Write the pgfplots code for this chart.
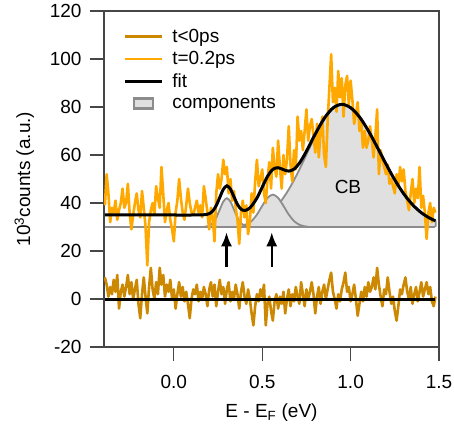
\documentclass[border=0pt]{standalone}
\usepackage{fontspec}
\setmainfont{Liberation Sans}
\usepackage{pgfplots}
\pgfplotsset{compat=1.18}
\usetikzlibrary{arrows.meta}

\definecolor{tpos}{RGB}{255,168,0}
\definecolor{tneg}{RGB}{204,136,0}
\definecolor{compfill}{RGB}{224,224,224}
\definecolor{compedge}{RGB}{140,140,140}
\definecolor{axgray}{RGB}{70,70,70}

\begin{document}
\begin{tikzpicture}
\begin{axis}[
    at={(0pt,0pt)}, anchor=south west,
    scale only axis,
    width=335pt, height=336pt,
    xmin=-0.395, xmax=1.5,
    ymin=-20, ymax=120,
    xtick={0,0.5,1,1.5},
    xticklabels={0.0,0.5,1.0,1.5},
    ytick={-20,0,20,40,60,80,100,120},
    yticklabels={-20,0,20,40,60,80,100,120},
    xtick pos=bottom, ytick pos=left,
    tick align=outside,
    major tick length=14pt,
    tick style={axgray, line width=1.3pt},
    axis line style={axgray, line width=1.3pt},
    tick label style={font=\fontsize{19}{22}\selectfont},
    xticklabel style={yshift=-11pt},
    yticklabel style={xshift=-5pt},
    xlabel={E - E\textsubscript{F} (eV)},
    ylabel={10\textsuperscript{3}counts (a.u.)},
    every axis y label/.style={at={(axis description cs:-0.238,0.5)}, rotate=90, anchor=center, font=\fontsize{19}{22}\selectfont},
    every axis x label/.style={at={(axis description cs:0.5,-0.195)}, anchor=center, font=\fontsize{19}{22}\selectfont},
    legend style={at={(axis description cs:0.048,0.958)}, anchor=north west,
        draw=none, fill=none, font=\fontsize{19}{22}\selectfont, row sep=3.5pt},
    legend cell align=left,
    legend image code/.code={\draw[#1] (0pt,0pt) -- (37pt,0pt); \path (44pt,0pt);},
]
% legend in the reference order
\addlegendimage{tneg, line width=2.6pt}
\addlegendentry{t<0ps}
\addlegendimage{tpos, line width=2.6pt}
\addlegendentry{t=0.2ps}
\addlegendimage{black, line width=3pt}
\addlegendentry{fit}
\addlegendimage{legend image code/.code={\draw[line width=2.5pt, draw=compedge, fill=compfill] (9pt,-5pt) rectangle (28pt,5pt); \path (44pt,0pt);}}
\addlegendentry{components}

% components on the 30 baseline
\addplot[forget plot, smooth, draw=compedge, fill=compfill, line width=1.8pt] coordinates {
(0.30,30.00) (0.35,30.45) (0.40,30.95) (0.45,31.91) (0.50,33.56) (0.55,36.22)
(0.60,40.19) (0.65,45.62) (0.70,52.42) (0.75,60.14) (0.80,67.94) (0.85,74.72)
(0.90,79.35) (0.95,81.00) (1.00,79.66) (1.05,75.86) (1.10,70.16) (1.15,63.35)
(1.20,56.27) (1.25,49.62) (1.30,43.89) (1.35,39.33) (1.40,35.94) (1.45,33.59)
(1.48,32.59) (1.48,30.00)
};
\addplot[forget plot, smooth, draw=compedge, fill=compfill, line width=1.8pt] coordinates {
(0.35,30.00) (0.38,30.29) (0.41,30.94) (0.44,32.46) (0.47,35.18) (0.50,38.82)
(0.53,42.14) (0.56,43.50) (0.59,42.14) (0.62,38.82) (0.65,35.18) (0.68,32.46)
(0.71,30.94) (0.74,30.29) (0.77,30.00)
};
\addplot[forget plot, smooth, draw=compedge, fill=compfill, line width=1.8pt] coordinates {
(0.16,30.00) (0.18,30.13) (0.20,30.53) (0.22,31.62) (0.24,33.90) (0.26,37.28)
(0.28,40.59) (0.30,42.00) (0.32,40.59) (0.34,37.28) (0.36,33.90) (0.38,31.62)
(0.40,30.53) (0.42,30.13) (0.44,30.00)
};
\addplot[forget plot, draw=compedge, line width=1.8pt] coordinates {(-0.39,30) (1.48,30)};

% t=0.2ps spectrum
\addplot[forget plot, tpos, line width=2.6pt, line join=round] table {
x y
-0.39 39
-0.38 52
-0.37 44
-0.36 32
-0.35 38
-0.34 36
-0.33 41
-0.32 33
-0.31 37
-0.30 40
-0.29 46
-0.28 38
-0.27 40
-0.26 48
-0.25 36
-0.24 29
-0.23 35
-0.22 40
-0.21 44
-0.20 37
-0.19 34
-0.18 45
-0.17 38
-0.16 30
-0.15 14
-0.14 32
-0.13 37
-0.12 40
-0.11 35
-0.10 47
-0.09 42
-0.08 38
-0.07 55
-0.06 44
-0.05 32
-0.04 37
-0.03 40
-0.02 33
-0.01 29
0.00 24
0.01 36
0.02 41
0.03 50
0.04 42
0.05 36
0.06 33
0.07 39
0.08 46
0.09 40
0.10 36
0.11 35
0.12 38
0.13 41
0.14 36
0.15 39
0.16 34
0.17 47
0.18 42
0.19 36
0.20 29
0.21 38
0.22 34
0.23 24
0.24 44
0.25 52
0.26 46
0.27 50
0.28 58
0.29 52
0.30 55
0.31 44
0.32 50
0.33 41
0.34 45
0.35 38
0.36 33
0.37 23
0.38 36
0.39 41
0.40 34
0.41 39
0.42 27
0.43 32
0.44 44
0.45 36
0.46 49
0.47 58
0.48 47
0.49 50
0.50 54
0.51 44
0.52 40
0.53 50
0.54 57
0.55 46
0.56 63
0.57 55
0.58 51
0.59 66
0.60 55
0.61 46
0.62 60
0.63 52
0.64 58
0.65 72
0.66 56
0.67 49
0.68 62
0.69 54
0.70 76
0.71 66
0.72 70
0.73 62
0.74 70
0.75 79
0.76 66
0.77 72
0.78 75
0.79 68
0.80 61
0.81 73
0.82 59
0.83 70
0.84 76
0.85 60
0.86 55
0.87 74
0.88 88
0.89 102
0.90 82
0.91 88
0.92 78
0.93 95
0.94 84
0.95 92
0.96 76
0.97 89
0.98 93
0.99 81
1.00 91
1.01 83
1.02 73
1.03 77
1.04 82
1.05 70
1.06 74
1.07 63
1.08 70
1.09 63
1.10 66
1.11 72
1.12 66
1.13 59
1.14 68
1.15 79
1.16 52
1.17 62
1.18 58
1.19 55
1.20 52
1.21 56
1.22 48
1.23 50
1.24 47
1.25 44
1.26 52
1.27 47
1.28 55
1.29 49
1.30 54
1.31 45
1.32 41
1.33 37
1.34 44
1.35 50
1.36 40
1.37 46
1.38 42
1.39 55
1.40 38
1.41 43
1.42 36
1.43 25
1.44 36
1.45 40
1.46 32
1.47 38
1.48 36
};

% t<0ps trace
\addplot[forget plot, tneg, line width=2.6pt, line join=round] table {
x y
-0.39 9
-0.38 6
-0.37 1
-0.36 5
-0.35 2
-0.34 8
-0.33 3
-0.32 10
-0.31 -4
-0.30 3
-0.29 6
-0.28 1
-0.27 5
-0.26 10
-0.25 2
-0.24 7
-0.23 0
-0.22 4
-0.21 8
-0.20 -2
-0.19 -8
-0.18 2
-0.17 9
-0.16 1
-0.15 -6
-0.14 5
-0.13 13
-0.12 4
-0.11 0
-0.10 7
-0.09 2
-0.08 13
-0.07 6
-0.06 10
-0.05 1
-0.04 6
-0.03 3
-0.02 8
-0.01 0
0.00 4
0.01 -4
0.02 2
0.03 7
0.04 1
0.05 5
0.06 -1
0.07 3
0.08 -2
0.09 -8
0.10 0
0.11 4
0.12 2
0.13 6
0.14 -1
0.15 3
0.16 0
0.17 5
0.18 2
0.19 -3
0.20 4
0.21 7
0.22 1
0.23 6
0.24 -3
0.25 3
0.26 8
0.27 2
0.28 5
0.29 -2
0.30 4
0.31 7
0.32 -1
0.33 3
0.34 0
0.35 6
0.36 2
0.37 -4
0.38 3
0.39 7
0.40 1
0.41 -2
0.42 4
0.43 0
0.44 -6
0.45 -11
0.46 -3
0.47 2
0.48 -1
0.49 4
0.50 1
0.51 6
0.52 -11
0.53 -2
0.54 1
0.55 -5
0.56 -9
0.57 -1
0.58 2
0.59 -4
0.60 1
0.61 -2
0.62 3
0.63 -6
0.64 0
0.65 4
0.66 -3
0.67 2
0.68 -1
0.69 5
0.70 1
0.71 -2
0.72 7
0.73 2
0.74 -3
0.75 4
0.76 0
0.77 3
0.78 7
0.79 2
0.80 -6
0.81 1
0.82 5
0.83 -2
0.84 3
0.85 6
0.86 0
0.87 4
0.88 8
0.89 11
0.90 3
0.91 0
0.92 -4
0.93 2
0.94 -1
0.95 4
0.96 7
0.97 11
0.98 3
0.99 5
1.00 -1
1.01 2
1.02 6
1.03 0
1.04 -7
1.05 -2
1.06 3
1.07 -1
1.08 5
1.09 1
1.10 7
1.11 3
1.12 5
1.13 9
1.14 4
1.15 13
1.16 6
1.17 1
1.18 -3
1.19 4
1.20 2
1.21 9
1.22 3
1.23 -2
1.24 1
1.25 -5
1.26 -9
1.27 -3
1.28 4
1.29 2
1.30 6
1.31 9
1.32 3
1.33 0
1.34 5
1.35 -2
1.36 2
1.37 5
1.38 -1
1.39 3
1.40 7
1.41 1
1.42 4
1.43 7
1.44 2
1.45 5
1.46 -1
1.47 -3
1.48 1
};

% fits
\addplot[forget plot, black, line width=3pt] coordinates {(-0.39,0) (1.48,0)};
\addplot[forget plot, black, line width=3pt, smooth] coordinates {
(-0.39,35.00) (0.00,35.00) (0.10,35.00) (0.14,35.02) (0.18,35.15) (0.20,35.56)
(0.22,36.66) (0.24,38.95) (0.26,42.35) (0.28,45.69) (0.30,47.16) (0.32,45.82)
(0.34,42.60) (0.36,39.41) (0.38,37.44) (0.40,36.89) (0.42,37.42) (0.44,38.76)
(0.47,42.06) (0.50,46.59) (0.53,51.09) (0.56,54.03) (0.59,54.69) (0.62,53.90)
(0.65,53.30) (0.68,54.11) (0.71,56.57) (0.74,60.22) (0.77,64.44) (0.80,68.73)
(0.85,75.18) (0.90,79.59) (0.95,81.11) (1.00,79.71) (1.05,75.88) (1.10,70.16)
(1.15,63.35) (1.20,56.27) (1.25,49.62) (1.30,43.89) (1.35,39.33) (1.40,35.94)
(1.45,33.59) (1.48,32.59)
};

% annotations
\draw[-{Latex[length=14pt,width=11pt]}, line width=2.2pt] (axis cs:0.298,13.5) -- (axis cs:0.298,27.8);
\draw[-{Latex[length=14pt,width=11pt]}, line width=2.2pt] (axis cs:0.554,13.5) -- (axis cs:0.554,27.8);
\node[font=\fontsize{19}{22}\selectfont] at (axis cs:0.985,46.7) {CB};
\end{axis}
\pgfresetboundingbox
\path[use as bounding box] (-104pt,-78pt) rectangle (350pt,347pt);
\end{tikzpicture}
\end{document}
